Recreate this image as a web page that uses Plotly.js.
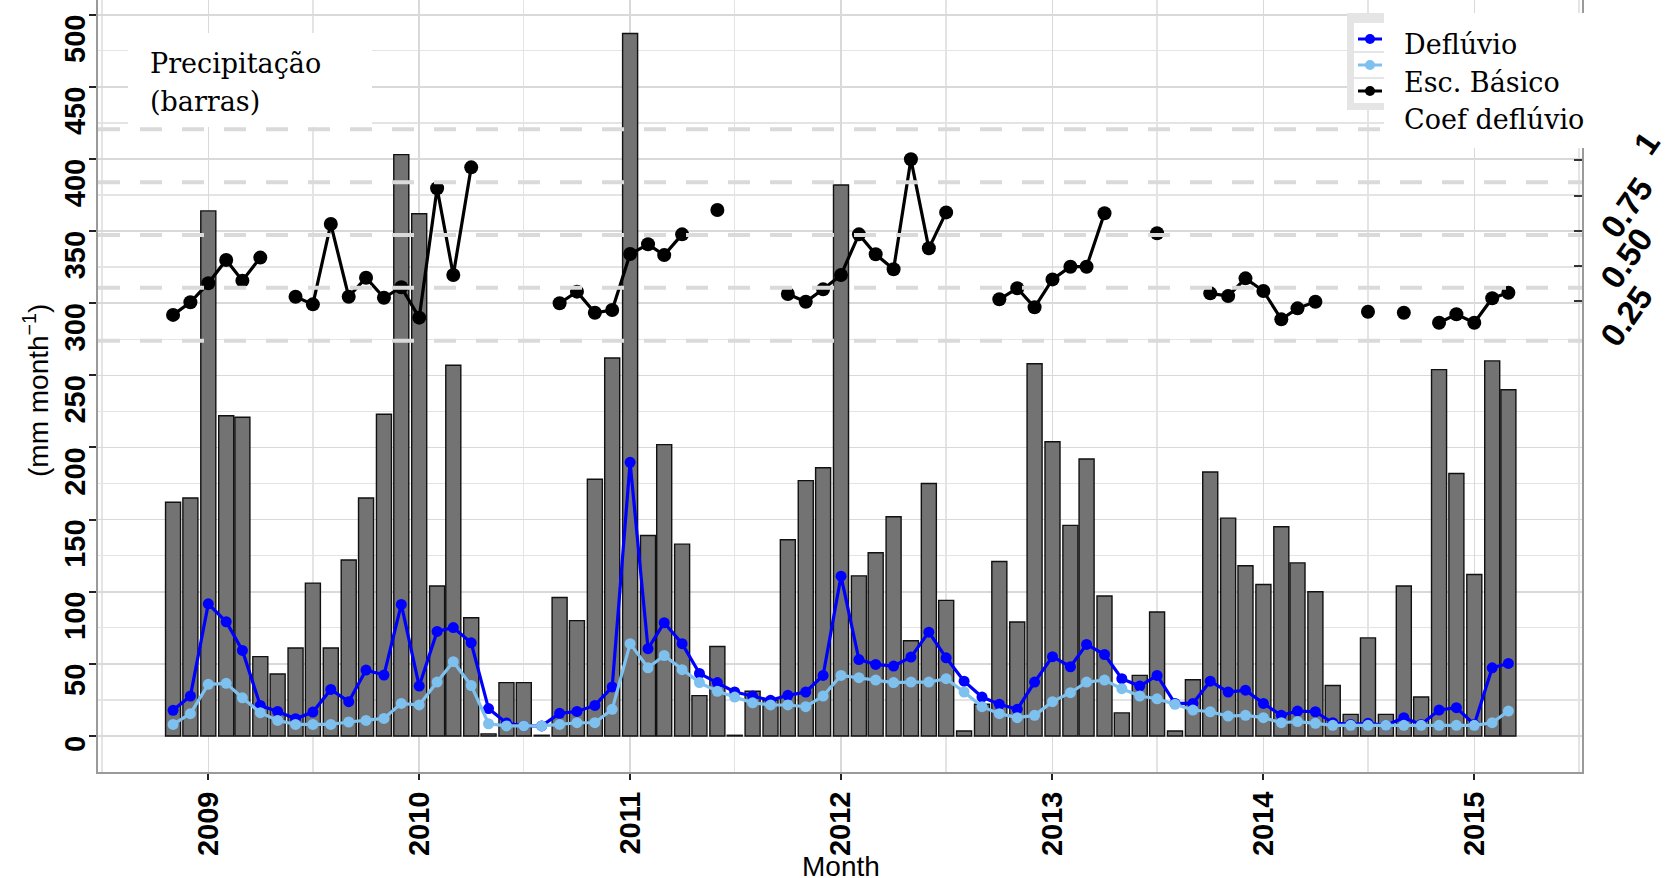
<!DOCTYPE html>
<html><head><meta charset="utf-8">
<script src="https://cdn.plot.ly/plotly-3.0.1.min.js"></script>
<style>html,body{margin:0;padding:0;background:#fff}</style>
</head><body>
<div id="chart" style="width:1667px;height:878px"></div>
<script>
// ---------------- DATA ----------------
const months = [
 '2008-11-01','2008-12-01',
 '2009-01-01','2009-02-01','2009-03-01','2009-04-01','2009-05-01','2009-06-01','2009-07-01','2009-08-01','2009-09-01','2009-10-01','2009-11-01','2009-12-01',
 '2010-01-01','2010-02-01','2010-03-01','2010-04-01','2010-05-01','2010-06-01','2010-07-01','2010-08-01','2010-09-01','2010-10-01','2010-11-01','2010-12-01',
 '2011-01-01','2011-02-01','2011-03-01','2011-04-01','2011-05-01','2011-06-01','2011-07-01','2011-08-01','2011-09-01','2011-10-01','2011-11-01','2011-12-01',
 '2012-01-01','2012-02-01','2012-03-01','2012-04-01','2012-05-01','2012-06-01','2012-07-01','2012-08-01','2012-09-01','2012-10-01','2012-11-01','2012-12-01',
 '2013-01-01','2013-02-01','2013-03-01','2013-04-01','2013-05-01','2013-06-01','2013-07-01','2013-08-01','2013-09-01','2013-10-01','2013-11-01','2013-12-01',
 '2014-01-01','2014-02-01','2014-03-01','2014-04-01','2014-05-01','2014-06-01','2014-07-01','2014-08-01','2014-09-01','2014-10-01','2014-11-01','2014-12-01',
 '2015-01-01','2015-02-01','2015-03-01'
];

const precipitacao = [
 162,165,
 364,222,221,55,43,61,106,61,122,165,223,403,
 362,104,257,82,1.5,37,37,0.5,96,80,178,262,
 487,139,202,133,28,62,0.5,31,25,136,177,186,
 382,111,127,152,66,175,94,3.5,22,121,79,258,
 204,146,192,97,16,42,86,3.5,39,183,151,118,
 105,145,120,100,35,15,68,15,104,27,254,182,
 112,260,240
];

const defluvio = [
 17.8,27.7,
 91.6,79.2,59.3,21.2,17,12,16.6,32.3,23.8,45.7,42.2,91.2,
 34.6,72.5,75.2,64.6,19,9,7,7,15.7,17,21.2,34,
 189.7,60.5,78.5,64,43.4,37,30.5,27.7,24.7,28.2,30.5,42,
 110.8,53,49.6,48.5,54.7,72,54.2,38,27,22,18.5,37.4,
 55,48,63.5,56.5,39.7,34.6,42,22.6,22.6,38,30.5,31.8,
 22.6,14.3,17.3,16.8,9.2,8,8.8,7.4,12.7,8,18,19.6,
 8,47.3,50.3
];

const escBasico = [
 8,15.5,
 35.8,36.5,26.5,16.2,10.8,8,8,8,9.7,10.8,12.2,22.6,
 21.5,37.4,51.5,35,8.5,7,7,7,8,9.2,9.2,18.5,
 64,47.3,55.8,46,37,31,27,23,21.5,21.5,20.3,27.7,
 42,40.4,38.8,37,37.4,37.4,39.7,30.5,20.3,15.5,12.7,14.3,
 23.8,30,37.4,38.8,32.8,27.7,25.8,22,18,16.8,13.8,14.3,
 12.7,9.2,10,8.8,7.4,7.4,7.4,7.4,7.4,7.4,7.4,7.4,
 7.4,9.2,17.3
];

const coefDefluvio = [
 0.122,0.182,
 0.272,0.382,0.284,0.393,null,0.208,0.172,0.552,0.208,0.298,0.203,0.253,
 0.109,0.721,0.311,0.820,null,null,null,null,0.177,0.232,0.132,0.145,
 0.410,0.456,0.405,0.503,null,0.618,null,null,null,0.221,0.184,0.243,
 0.311,0.503,0.409,0.338,0.858,0.437,0.607,null,null,0.196,0.248,0.158,
 0.290,0.350,0.350,0.603,null,null,0.508,null,null,0.224,0.211,0.295,
 0.235,0.101,0.153,0.184,null,null,0.137,null,0.132,null,0.085,0.125,
 0.085,0.201,0.227
];

const seriesNames = ['Deflúvio','Esc. Básico','Coef deflúvio'];
const seriesColors = ['#0000ff','#7ec0ee','#000000'];
const yTickVals = [0,50,100,150,200,250,300,350,400,450,500];
const yTickText = ['0','50','100','150','200','250','300','350','400','450','500'];
const coefGridVals = [0,0.25,0.5,0.75,1];
const coefTickText = ['0.25','0.50','0.75','1'];
const precipLabel = ['Precipitação','(barras)'];

// ---------------- GEOMETRY (pixels) ----------------
const W = 1667, H = 878, L = 98, R = 1582, T = 0, B = 772;
const px = x => (x - L) / (R - L);
const py = y => (B - y) / (B - T);
const SANS = 'Liberation Sans, Arial, sans-serif';
const SERIF = 'DejaVu Serif, serif';
const TICK_SIZE = 29;

// ---------------- TRACES ----------------
const traces = [
  {type:'bar', x:months, y:precipitacao, name:'Precipitação',
   width:26*86400000, marker:{color:'#737373', line:{color:'#111', width:1.4}},
   showlegend:false, hoverinfo:'skip'},
  {type:'scatter', mode:'lines+markers', x:months, y:defluvio, name:seriesNames[0],
   line:{color:seriesColors[0], width:3.2}, marker:{color:seriesColors[0], size:11},
   showlegend:false},
  {type:'scatter', mode:'lines+markers', x:months, y:escBasico, name:seriesNames[1],
   line:{color:seriesColors[1], width:3.2}, marker:{color:seriesColors[1], size:11},
   showlegend:false},
  {type:'scatter', mode:'lines+markers', x:months, y:coefDefluvio, name:seriesNames[2],
   yaxis:'y2', connectgaps:false,
   line:{color:seriesColors[2], width:3.2}, marker:{color:seriesColors[2], size:14},
   showlegend:false}
];

// ---------------- LAYOUT ----------------
const y2px0 = 340.7, y2pxPerUnit = 211.4;
const y2range = [-(B - y2px0)/y2pxPerUnit, (y2px0 - T)/y2pxPerUnit];
const rightTickPx = [160, 195.7, 230.7, 265.7, 300.7];
const rightTickVals = rightTickPx.map(p => (y2px0 - p)/y2pxPerUnit);

const shapes = [];
coefGridVals.forEach(v => shapes.push({type:'line', xref:'paper', yref:'y2', x0:0, x1:1, y0:v, y1:v,
  line:{color:'#dadada', width:4, dash:'22px,20px'}, layer:'above'}));
shapes.push({type:'rect', xref:'paper', yref:'paper', x0:px(128), x1:px(372), y0:py(127), y1:py(33),
  fillcolor:'#ffffff', line:{width:0}, layer:'above'});
shapes.push({type:'rect', xref:'paper', yref:'paper', x0:px(1384), x1:px(1667), y0:py(148), y1:py(13),
  fillcolor:'#ffffff', line:{width:0}, layer:'above'});
shapes.push({type:'rect', xref:'paper', yref:'paper', x0:px(1347), x1:px(1384), y0:py(110), y1:py(13),
  fillcolor:'#e5e5e5', line:{width:0}, layer:'above'});
const keyCells = [[23,51],[53,77],[79,103]];
const keyY = [39, 65, 91];
keyCells.forEach(c => shapes.push({type:'rect', xref:'paper', yref:'paper', x0:px(1354), x1:px(1384),
  y0:py(c[1]), y1:py(c[0]), fillcolor:'#ffffff', line:{width:0}, layer:'above'}));
keyY.forEach((yy,i) => {
  shapes.push({type:'line', xref:'paper', yref:'paper', x0:px(1358), x1:px(1382), y0:py(yy), y1:py(yy),
    line:{color:seriesColors[i], width:3}, layer:'above'});
  shapes.push({type:'circle', xref:'paper', yref:'paper', x0:px(1365), x1:px(1375), y0:py(yy+5), y1:py(yy-5),
    fillcolor:seriesColors[i], line:{width:0}, layer:'above'});
});

const annotations = [];
const tickFont = {family:SANS, size:TICK_SIZE, color:'#000', weight:'bold'};
yTickVals.forEach((v,i) => annotations.push({xref:'paper', yref:'y', x:px(75), y:v, text:yTickText[i],
  textangle:-90, showarrow:false, xanchor:'center', yanchor:'middle',
  yshift: -(yTickText[i].length*0.556*TICK_SIZE)/2, font:tickFont}));
const rightLabelPos = [[1626,316],[1626,258],[1627,208],[1646,143]];
coefTickText.forEach((t,i) => annotations.push({xref:'paper', yref:'paper',
  x:px(rightLabelPos[i][0]), y:py(rightLabelPos[i][1]), text:t, textangle:-55, showarrow:false,
  xanchor:'center', yanchor:'middle', font:{family:SANS, size:33, color:'#000', weight:'bold'}}));
const legendTextY = [45, 82, 119];
seriesNames.forEach((n,i) => annotations.push({xref:'paper', yref:'paper', x:px(1402), y:py(legendTextY[i]),
  text:n, showarrow:false, xanchor:'left', yanchor:'middle', font:{family:SERIF, size:27, color:'#000'}}));
const precipY = [64, 101];
precipLabel.forEach((t,i) => annotations.push({xref:'paper', yref:'paper', x:px(148), y:py(precipY[i]),
  text:t, showarrow:false, xanchor:'left', yanchor:'middle', font:{family:SERIF, size:27, color:'#000'}}));
annotations.push({xref:'paper', yref:'paper', x:px(841), y:py(849), text:'Month', showarrow:false,
  xanchor:'center', yanchor:'top', font:{family:SANS, size:28, color:'#000'}});
annotations.push({xref:'paper', yref:'paper', x:px(36), y:py(391), text:'(mm month<sup>−1</sup>)',
  textangle:-90, showarrow:false, xanchor:'center', yanchor:'middle', font:{family:SANS, size:28, color:'#000'}});

const layout = {
  width:W, height:H,
  margin:{l:L, r:W-R, t:T, b:H-B, pad:0},
  paper_bgcolor:'#ffffff', plot_bgcolor:'#ffffff',
  showlegend:false, bargap:0,
  xaxis:{type:'date', range:['2008-06-24 02:40','2015-07-06 09:20'],
    tickmode:'linear', tick0:'2009-01-01', dtick:'M12', tickformat:'%Y',
    tickangle:-90, tickfont:{family:SANS, size:TICK_SIZE, color:'#000', weight:'bold'},
    ticks:'outside', ticklen:6, tickwidth:2, tickcolor:'#222',
    showgrid:true, gridcolor:'#d9d9d9', gridwidth:1.6,
    minor:{tick0:'2009-01-01', dtick:'M6', showgrid:true, gridcolor:'#e4e4e4', gridwidth:1.4, ticks:''},
    showline:true, linecolor:'#9a9a9a', linewidth:2, zeroline:false, automargin:false},
  yaxis:{range:[-(B-736)/1.4426, (736-T)/1.4426], tickmode:'linear', tick0:0, dtick:50,
    showticklabels:false, ticks:'outside', ticklen:7, tickwidth:2, tickcolor:'#222',
    showgrid:true, gridcolor:'#d9d9d9', gridwidth:1.6,
    minor:{tick0:0, dtick:25, showgrid:true, gridcolor:'#e4e4e4', gridwidth:1.4, ticks:''},
    showline:true, mirror:true, linecolor:'#9a9a9a', linewidth:2, zeroline:false, automargin:false},
  yaxis2:{overlaying:'y', side:'right', range:y2range, tickmode:'array', tickvals:rightTickVals,
    showticklabels:false, ticks:'inside', ticklen:8, tickwidth:2, tickcolor:'#333',
    showgrid:false, zeroline:false, showline:false, automargin:false},
  shapes:shapes,
  annotations:annotations
};

Plotly.newPlot('chart', traces, layout, {displayModeBar:false, staticPlot:true});
</script>
</body></html>
